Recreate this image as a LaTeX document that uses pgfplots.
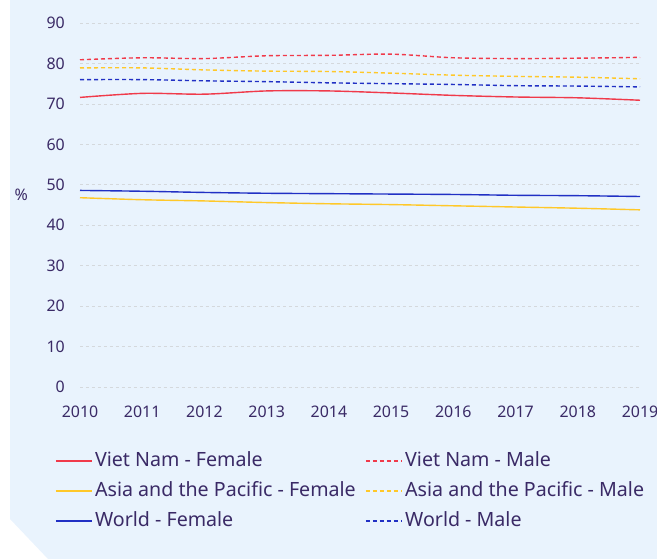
\documentclass[border=0pt]{standalone}
\usepackage{fontspec}
\setmainfont{Noto Sans}
\usepackage{pgfplots}
\pgfplotsset{compat=1.18}
\definecolor{bg}{HTML}{E9F3FD}
\definecolor{txt}{HTML}{3A2A66}
\definecolor{vn}{HTML}{F03A4A}
\definecolor{ap}{HTML}{FFC829}
\definecolor{wd}{HTML}{2130C4}
\definecolor{grd}{HTML}{D4D8DC}
\begin{document}
\begin{tikzpicture}[x=1bp,y=1bp]
\useasboundingbox (0,0) rectangle (657,559);
\fill[bg] (10,559) -- (657,559) -- (657,0) -- (48,0) -- (10,40) -- cycle;
\begin{axis}[
  at={(80bp,172bp)}, anchor=south west,
  scale only axis, width=560bp, height=364bp,
  xmin=2010, xmax=2019, ymin=0, ymax=90,
  axis line style={draw=none},
  xtick={2010,2011,...,2019}, ytick={0,10,...,90},
  major tick length=0pt,
  ymajorgrids, grid style={dashed, grd, line width=0.7bp},
  /pgf/number format/assume math mode=true,
  /pgf/number format/set thousands separator={},
  ticklabel style={font=\fontsize{16}{18}\selectfont, text=txt},
  xticklabel style={anchor=north, inner sep=0pt, yshift=-19bp},
  yticklabel style={anchor=east, inner sep=0pt, xshift=-15bp},
  clip=false,
  legend columns=2,
  legend cell align=left,
  legend image code/.code={\draw[#1] (0bp,0bp) -- (36bp,0bp);},
  legend style={draw=none, fill=none, at={(-0.050,-0.170)}, anchor=north west,
    font=\fontsize{19.7}{24}\selectfont, text=txt,
    nodes={inner xsep=2.5bp, inner ysep=0pt, text height=15bp, text depth=5bp},
    /tikz/row sep=10bp,
    /tikz/every even column/.append style={column sep=7bp}},
]
\addplot[vn, line width=1.4bp, smooth, tension=0.5] coordinates {
 (2010,71.6) (2011,72.6) (2012,72.4) (2013,73.2) (2014,73.2) (2015,72.7) (2016,72.1) (2017,71.7) (2018,71.5) (2019,70.9)};
\addlegendentry{Viet Nam - Female}
\addplot[vn, line width=1.4bp, dash pattern=on 4bp off 3bp, smooth, tension=0.5] coordinates {
 (2010,80.9) (2011,81.4) (2012,81.2) (2013,81.9) (2014,82.0) (2015,82.3) (2016,81.4) (2017,81.2) (2018,81.3) (2019,81.5)};
\addlegendentry{Viet Nam - Male}
\addplot[ap, line width=1.4bp, smooth, tension=0.5] coordinates {
 (2010,46.8) (2011,46.3) (2012,46.0) (2013,45.6) (2014,45.3) (2015,45.1) (2016,44.8) (2017,44.5) (2018,44.2) (2019,43.8)};
\addlegendentry{Asia and the Pacific - Female}
\addplot[ap, line width=1.4bp, dash pattern=on 4bp off 3bp, smooth, tension=0.5] coordinates {
 (2010,78.9) (2011,78.9) (2012,78.4) (2013,78.1) (2014,78.0) (2015,77.6) (2016,77.1) (2017,76.8) (2018,76.6) (2019,76.2)};
\addlegendentry{Asia and the Pacific - Male}
\addplot[wd, line width=1.4bp, smooth, tension=0.5] coordinates {
 (2010,48.6) (2011,48.4) (2012,48.1) (2013,47.9) (2014,47.8) (2015,47.7) (2016,47.6) (2017,47.4) (2018,47.3) (2019,47.1)};
\addlegendentry{World - Female}
\addplot[wd, line width=1.4bp, dash pattern=on 4bp off 3bp, smooth, tension=0.5] coordinates {
 (2010,76.0) (2011,76.0) (2012,75.7) (2013,75.5) (2014,75.2) (2015,75.0) (2016,74.8) (2017,74.5) (2018,74.4) (2019,74.2)};
\addlegendentry{World - Male}
\node[text=txt, font=\fontsize{16}{18}\selectfont] at (axis description cs:-0.105,0.527) {\%};
\end{axis}
\end{tikzpicture}
\end{document}
